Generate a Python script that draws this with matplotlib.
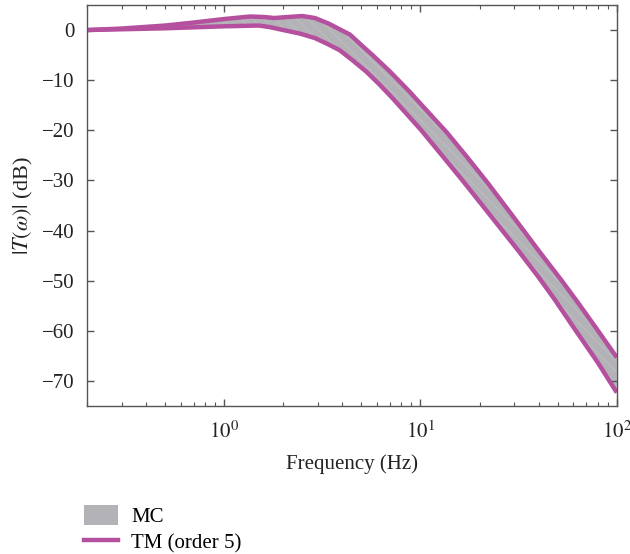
import numpy as np
import matplotlib
matplotlib.use("Agg")
import matplotlib.pyplot as plt
from matplotlib.patches import Patch
from matplotlib.lines import Line2D

plt.rcParams['font.family'] = ['Liberation Serif', 'DejaVu Serif']
plt.rcParams['mathtext.fontset'] = 'stix'
plt.rcParams['hatch.linewidth'] = 0.6

# upper bound of the TM band (Hz, dB)
f_up = [0.2, 0.3, 0.5, 0.7, 1.0, 1.35, 1.6, 1.8, 2.1, 2.5, 2.9, 3.4, 3.9, 4.37,
        5.0, 5.7, 7.0, 8.8, 11.2, 13.6, 17, 21.8, 28.5, 40, 52, 63.5, 80, 100]
db_up = [0.0, 0.3, 0.9, 1.5, 2.2, 2.7, 2.6, 2.4, 2.6, 2.8, 2.4, 1.3, 0.1, -0.9,
         -3.0, -5.0, -8.3, -12.3, -16.8, -20.4, -25.0, -30.3, -36.3, -44.0, -49.8,
         -54.4, -59.9, -65.3]

# lower bound of the TM band (Hz, dB)
f_lo = [0.2, 0.5, 1.0, 1.5, 1.7, 2.0, 2.43, 2.9, 3.33, 3.87, 4.5, 5.3, 6.2, 7.25,
        10, 13, 16.3, 22, 31.8, 40, 48, 60, 80, 100]
db_lo = [0.0, 0.35, 0.75, 0.9, 0.6, 0.0, -0.7, -1.6, -2.7, -4.0, -6.0, -8.3, -10.9,
         -13.7, -19.8, -25.2, -29.9, -36.3, -44.2, -49.3, -53.6, -59.2, -66.3, -72.3]

yticks = [0, -10, -20, -30, -40, -50, -60, -70]
ytick_labels = ['0', '\u221210', '\u221220', '\u221230', '\u221240', '\u221250', '\u221260', '\u221270']

purple = '#b4509e'
gray = '#b3b3b7'
fs = 15

fig = plt.figure(figsize=(6.3, 5.54), dpi=100)
ax = fig.add_axes([0.138, 0.267, 0.841, 0.724])

# MC envelope
band_x = np.concatenate([f_up, f_lo[::-1]])
band_y = np.concatenate([db_up, db_lo[::-1]])
ax.fill(band_x, band_y, facecolor=gray, edgecolor='#c0c0c4', hatch='\\\\\\', linewidth=0)

ax.plot(f_up, db_up, color=purple, lw=3.2, solid_capstyle='butt', solid_joinstyle='round')
ax.plot(f_lo, db_lo, color=purple, lw=3.2, solid_capstyle='butt', solid_joinstyle='round')

ax.set_xscale('log')
ax.set_xlim(0.2, 100)
ax.set_ylim(-75, 5)
ax.set_yticks(yticks)
ax.set_yticklabels(ytick_labels)
ax.set_xticks([1, 10, 100])
ax.set_xticklabels([r'$10^0$', r'$10^1$', r'$10^2$'])

ax.tick_params(which='both', direction='in', top=True, right=True, colors='#555555',
               labelcolor='#222222', labelsize=fs)
ax.tick_params(which='major', length=5, width=1)
ax.tick_params(which='minor', length=3, width=0.8)
ax.tick_params(axis='x', pad=11)
ax.tick_params(axis='y', pad=9)
for s in ax.spines.values():
    s.set_color('#555555')
    s.set_linewidth(1.0)

ax.set_xlabel('Frequency (Hz)', fontsize=fs, color='#222222', labelpad=8)
ax.set_ylabel(r'$|T(\omega)|$ (dB)', fontsize=fs + 1, color='#222222', labelpad=5)

handles = [Patch(facecolor=gray, edgecolor='none'),
           Line2D([0], [0], color=purple, lw=3.2)]
fig.legend(handles, ['MC', 'TM (order 5)'], loc='upper left',
           bbox_to_anchor=(0.134, 0.088), frameon=False, fontsize=fs,
           handlelength=1.6, handleheight=1.1, handletextpad=0.65,
           labelspacing=0.2, borderpad=0, borderaxespad=0)

fig.savefig('out.png', dpi=100)
